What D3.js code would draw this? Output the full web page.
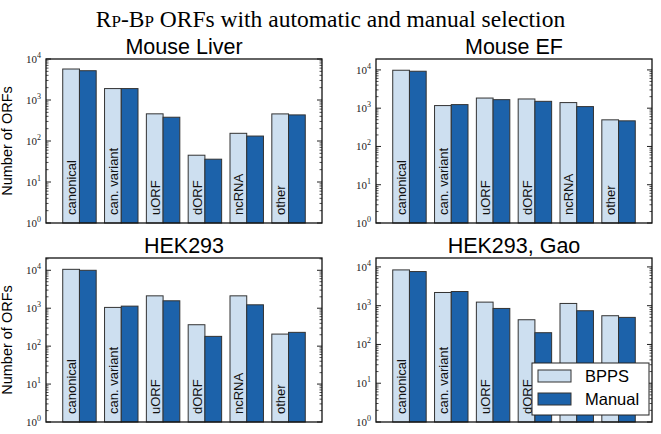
<!DOCTYPE html>
<html>
<head>
<meta charset="utf-8">
<script src="https://cdn.jsdelivr.net/npm/d3@7/dist/d3.min.js"></script>
<style>
  body { margin: 0; background: #fff; }
  svg { display: block; }
</style>
</head>
<body>
<div id="chart"></div>
<script>
// categories and series
const categories = ["canonical", "can. variant", "uORF", "dORF", "ncRNA", "other"];
const seriesNames = ["BPPS", "Manual"];

// values (number of ORFs)
const mouseLiverBpps = [5700, 1900, 460, 45, 154, 458];
const mouseLiverManual = [5180, 1900, 380, 36, 132, 433];
const mouseEfBpps = [9800, 1170, 1840, 1740, 1400, 496];
const mouseEfManual = [9230, 1240, 1670, 1510, 1100, 467];
const hekBpps = [10600, 1050, 2120, 367, 2120, 208];
const hekManual = [10000, 1135, 1570, 181, 1230, 231];
const gaoBpps = [8370, 2190, 1236, 434, 1142, 551];
const gaoManual = [7590, 2320, 849, 201, 741, 499];

const yTickExponents = [0, 1, 2, 3, 4];

const colors = { BPPS: "#cddff0", Manual: "#1c62aa" };

const W = 661, H = 434;

const panels = [
  { title: "Mouse Liver", bpps: mouseLiverBpps, manual: mouseLiverManual, x: 46, y: 59, yMax: 1e4, ylabel: true },
  { title: "Mouse EF", bpps: mouseEfBpps, manual: mouseEfManual, x: 376, y: 59, yMax: Math.pow(10, 4.285), ylabel: false },
  { title: "HEK293", bpps: hekBpps, manual: hekManual, x: 46, y: 258, yMax: Math.pow(10, 4.324), ylabel: true },
  { title: "HEK293, Gao", bpps: gaoBpps, manual: gaoManual, x: 376, y: 258, yMax: Math.pow(10, 4.23), ylabel: false, legend: true }
];
const pw = 276, ph = 164;

const svg = d3.select("#chart").append("svg")
  .attr("width", W)
  .attr("height", H);

// Main title with small caps P's
const title = svg.append("text")
  .attr("x", W / 2)
  .attr("y", 27)
  .attr("text-anchor", "middle")
  .style("font-family", "'Liberation Serif', 'Times New Roman', serif")
  .style("font-size", "23.5px");
title.append("tspan").text("R");
title.append("tspan").style("font-size", "17px").text("P");
title.append("tspan").text("-B");
title.append("tspan").style("font-size", "17px").text("P");
title.append("tspan").text(" ORFs with automatic and manual selection");

panels.forEach(p => {
  const g = svg.append("g").attr("transform", `translate(${p.x},${p.y})`);

  const x = d3.scaleLinear().domain([-0.4, 6.2]).range([0, pw]);
  const y = d3.scaleLog().domain([1, p.yMax]).range([ph, 0]);

  const rows = categories.map((c, i) => ({ cat: c, i: i, BPPS: p.bpps[i], Manual: p.manual[i] }));

  // bars
  seriesNames.forEach((s, si) => {
    g.selectAll(".bar-" + s)
      .data(rows)
      .join("rect")
      .attr("x", d => x(d.i + si * 0.4))
      .attr("width", x(0.4) - x(0))
      .attr("y", d => y(d[s]))
      .attr("height", d => ph - y(d[s]))
      .attr("fill", colors[s])
      .attr("stroke", "#333")
      .attr("stroke-width", 1);
  });

  // category labels inside the BPPS bars
  g.selectAll(".cat")
    .data(rows)
    .join("text")
    .attr("transform", d => `translate(${x(d.i + 0.2) + 5},${ph - 8}) rotate(-90)`)
    .style("font-family", "'Liberation Sans', Arial, sans-serif")
    .style("font-size", "13px")
    .attr("fill", "#111")
    .text(d => d.cat);

  // ticks, both sides, pointing inward
  const minor = [];
  for (let e = 0; e < 5; e++) {
    for (let m = 2; m <= 9; m++) {
      const v = m * Math.pow(10, e);
      if (v <= p.yMax) minor.push(v);
    }
  }
  const major = yTickExponents.map(e => Math.pow(10, e));
  [0, pw].forEach(side => {
    const dir = side === 0 ? 1 : -1;
    g.selectAll(null).data(minor).join("line")
      .attr("x1", side).attr("x2", side + dir * 2.5)
      .attr("y1", d => y(d)).attr("y2", d => y(d))
      .attr("stroke", "#222").attr("stroke-width", 0.8);
    g.selectAll(null).data(major).join("line")
      .attr("x1", side).attr("x2", side + dir * 5)
      .attr("y1", d => y(d)).attr("y2", d => y(d))
      .attr("stroke", "#222").attr("stroke-width", 1);
  });

  // tick labels 10^e
  const tl = g.selectAll(".tl").data(yTickExponents).join("text")
    .attr("x", -5)
    .attr("y", e => y(Math.pow(10, e)) + 4)
    .attr("text-anchor", "end")
    .style("font-family", "'Liberation Serif', 'Times New Roman', serif")
    .style("font-size", "11px")
    .attr("fill", "#222");
  tl.append("tspan").text("10");
  tl.append("tspan").attr("dy", -5).style("font-size", "8px").text(e => e);

  // frame
  g.append("rect")
    .attr("width", pw).attr("height", ph)
    .attr("fill", "none")
    .attr("stroke", "#111")
    .attr("stroke-width", 1.3);

  // panel title
  g.append("text")
    .attr("x", pw / 2)
    .attr("y", -5)
    .attr("text-anchor", "middle")
    .style("font-family", "'Liberation Sans', Arial, sans-serif")
    .style("font-size", "21.5px")
    .text(p.title);

  if (p.ylabel) {
    g.append("text")
      .attr("transform", `translate(-34,${ph / 2}) rotate(-90)`)
      .attr("text-anchor", "middle")
      .style("font-family", "'Liberation Sans', Arial, sans-serif")
      .style("font-size", "14.5px")
      .text("Number of ORFs");
  }

  if (p.legend) {
    const lg = g.append("g").attr("transform", `translate(${pw - 120},${ph - 59})`);
    lg.append("rect")
      .attr("width", 117).attr("height", 52)
      .attr("fill", "#fff")
      .attr("stroke", "#222")
      .attr("stroke-width", 1);
    seriesNames.forEach((s, si) => {
      lg.append("rect")
        .attr("x", 6).attr("y", 7 + si * 23)
        .attr("width", 33).attr("height", 12)
        .attr("fill", colors[s])
        .attr("stroke", "#333");
      lg.append("text")
        .attr("x", 53).attr("y", 19 + si * 23)
        .style("font-family", "'Liberation Sans', Arial, sans-serif")
        .style("font-size", "16.5px")
        .text(s);
    });
  }
});
</script>
</body>
</html>
